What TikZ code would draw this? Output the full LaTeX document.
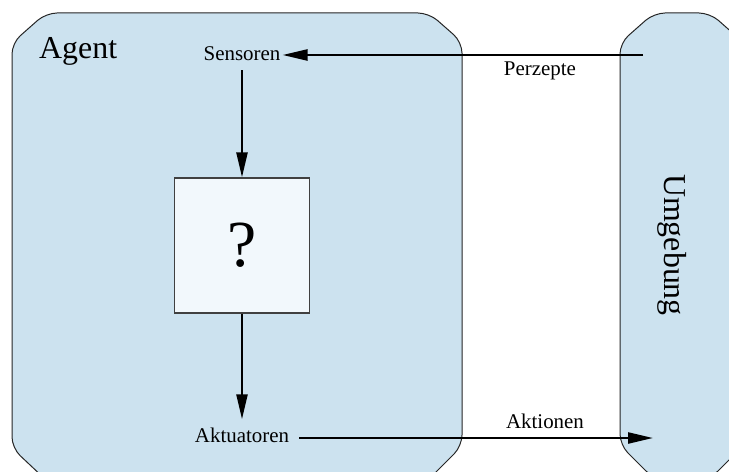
\documentclass[tikz,border=0pt]{standalone}
\usepackage{fontspec}
\setmainfont{Liberation Serif}
\usetikzlibrary{arrows.meta}
\definecolor{regionblue}{RGB}{204,226,239}
\definecolor{boxfill}{RGB}{242,248,252}
\begin{document}
\begin{tikzpicture}[x=1bp,y=-1bp,
  region/.style={draw=black!85, line width=1bp, fill=regionblue, rounded corners=11bp},
  flow/.style={line width=2.4bp, -{Triangle[length=25bp,width=11bp]}},
  small/.style={font=\fontsize{21}{25}\selectfont, inner sep=2bp},
  big/.style={font=\fontsize{32}{38}\selectfont, inner sep=0pt},
  blackbox/.style={draw=black!75, line width=1.3bp, fill=boxfill,
    minimum width=135bp, minimum height=135bp, font=\fontsize{66}{72}\selectfont}]
\useasboundingbox (0,0) rectangle (729,472);
\clip (0,0) rectangle (729,472);

% agent region
\path[region] (12,448) -- (12,43) -- (46,13) -- (429,13) -- (462,42)
  -- (462,446) -- (428,480) -- (46,480) -- cycle;
% environment region
\path[region] (620,445) -- (620,43) -- (654,13) -- (710,13) -- (744,43)
  -- (744,445) -- (710,479) -- (654,479) -- cycle;

% labels
\node[big, anchor=base west] (agentlbl) at (39,59) {Agent};
\node[big, rotate=-90, anchor=base] (envlbl) at (664,245) {Umgebung};

\node[small] (sens) at (242,54) {Sensoren};
\node[blackbox] (agentfn) at (242,245.5) {?};
\node[small, anchor=base] (akt) at (242,442) {Aktuatoren};
\node[small, anchor=base] (perz) at (540,76) {Perzepte};
\node[small, anchor=base] (aktion) at (545,428) {Aktionen};

\coordinate (perzstart) at (643,55);
\coordinate (aktionend) at (653,438);

% connectors
\draw[flow] (perzstart) -- (perzstart -| sens.east);
\draw[flow, shorten <=7bp] (sens) -- (agentfn);
\draw[flow, shorten >=6bp] (agentfn) -- (akt);
\draw[flow, shorten <=8bp] (akt.east |- aktionend) -- (aktionend);
\end{tikzpicture}
\end{document}
